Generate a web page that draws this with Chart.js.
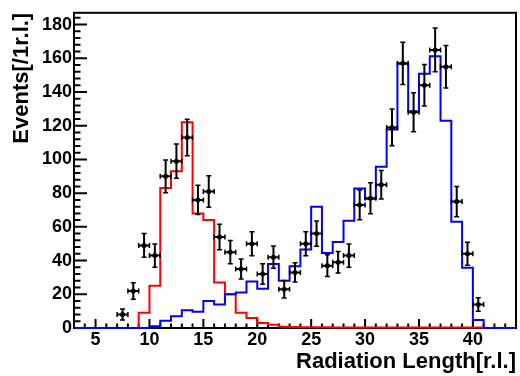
<!DOCTYPE html>
<html>
<head>
<meta charset="utf-8">
<script src="https://cdn.jsdelivr.net/npm/chart.js@4.4.1/dist/chart.umd.min.js"></script>
<style>
  html, body { margin: 0; padding: 0; background: #fff; }
  #wrap { width: 520px; height: 376px; }
</style>
</head>
<body>
<div id="wrap"><canvas id="chart" width="520" height="376"></canvas></div>
<script>
// ===========================
// DATA
// ===========================
// lower edge of each 1 r.l. bin
const binLow = [3, 4, 5, 6, 7, 8, 9, 10, 11, 12, 13, 14, 15, 16, 17, 18, 19, 20, 21, 22, 23,
  24, 25, 26, 27, 28, 29, 30, 31, 32, 33, 34, 35, 36, 37, 38, 39, 40, 41, 42, 43];
const binWidth = 1;

// red histogram
const redCounts = [0, 0, 0, 0, 0, 0, 9, 25, 83, 93, 122, 68, 64, 27, 20, 9, 6, 3, 2, 0.8, 0.6,
  0.5, 0.5, 0.4, 0.3, 0.3, 0.3, 0.3, 0.3, 0.3, 0.3, 0.3, 0.3, 0.3, 0.3, 0.3, 0.3, 0.3, 0, 0, 0];

// blue histogram
const blueCounts = [0, 0, 0, 0, 0, 0, 0, 1, 4.3, 7, 10.5, 9.6, 16, 14, 20, 21, 27.6, 23.3, 38, 28, 36.7,
  46.5, 72, 44.5, 51, 63.7, 82.7, 76.7, 95.7, 117.8, 156.7, 128.6, 150.8, 161.2, 123, 63, 35.7, 4.7, 0, 0, 0];

// measured events with errors
const dataX = [7.5, 8.5, 9.5, 10.5, 11.5, 12.5, 13.5, 14.5, 15.5, 16.5, 17.5, 18.5, 19.5, 20.5,
  21.5, 22.5, 23.5, 24.5, 25.5, 26.5, 27.5, 28.5, 29.5, 30.5, 31.5, 32.5, 33.5, 34.5, 35.5,
  36.5, 37.5, 38.5, 39.5, 40.5];
const dataY = [8, 22, 49, 43, 90, 99, 113, 76, 81, 54, 45, 35, 50, 32, 42, 23, 33, 50, 56, 37,
  39, 43, 73, 77, 85, 119, 157, 128, 144, 165, 155, 75, 44, 14];
const dataErr = [3.2, 4.9, 7.1, 6.9, 9.7, 10.2, 10.8, 8.7, 9.3, 7.6, 6.9, 5.9, 7.1, 6.1, 6.6, 5.2,
  5.7, 7.1, 7.5, 6.4, 6.4, 6.9, 8.8, 9.2, 8.4, 10.9, 12.5, 11.5, 12.3, 13, 12.6, 9, 6.8, 4];

// tick labels
const xTickValues = [5, 10, 15, 20, 25, 30, 35, 40];
const yTickValues = [0, 20, 40, 60, 80, 100, 120, 140, 160, 180];

const xMin = 3, xMax = 44, yMin = 0, yMax = 187;

// ===========================
// HELPERS
// ===========================
function histPoints(counts) {
  const pts = binLow.map((lo, i) => ({ x: lo, y: counts[i] }));
  pts.push({ x: binLow[binLow.length - 1] + binWidth, y: counts[counts.length - 1] });
  return pts;
}

const FONT = '"Liberation Sans", Arial, Helvetica, sans-serif';

// frame + inward ROOT style ticks
const rootFrame = {
  id: 'rootFrame',
  beforeDatasetsDraw(chart) {
    const { ctx, chartArea: a, scales: { x, y } } = chart;
    ctx.save();
    ctx.strokeStyle = '#000';
    ctx.lineWidth = 2;
    ctx.strokeRect(a.left, a.top, a.right - a.left, a.bottom - a.top);

    ctx.beginPath();
    for (let v = yMin; v <= yMax; v += 4) {
      const py = y.getPixelForValue(v);
      const len = v % 20 === 0 ? 13 : 6.5;
      ctx.moveTo(a.left, py);
      ctx.lineTo(a.left + len, py);
    }
    for (let v = xMin; v <= xMax; v += 1) {
      const px = x.getPixelForValue(v);
      const len = v % 5 === 0 ? 9 : 4.5;
      ctx.moveTo(px, a.bottom);
      ctx.lineTo(px, a.bottom - len);
    }
    ctx.stroke();
    ctx.restore();
  }
};

// error bars under the markers
const errorBars = {
  id: 'errorBars',
  beforeDatasetDraw(chart, args) {
    if (chart.data.datasets[args.index].label !== 'data') return;
    const { ctx, scales: { x, y } } = chart;
    ctx.save();
    ctx.strokeStyle = '#000';
    dataX.forEach((cx, i) => {
      const px = x.getPixelForValue(cx);
      const py = y.getPixelForValue(dataY[i]);
      const top = y.getPixelForValue(dataY[i] + dataErr[i]);
      const bot = y.getPixelForValue(dataY[i] - dataErr[i]);
      const l = x.getPixelForValue(cx - binWidth / 2);
      const r = x.getPixelForValue(cx + binWidth / 2);
      ctx.lineWidth = 2;
      ctx.beginPath();
      ctx.moveTo(px, top); ctx.lineTo(px, bot);
      ctx.moveTo(l, py); ctx.lineTo(r, py);
      ctx.stroke();
      ctx.lineWidth = 1.5;
      ctx.beginPath();
      ctx.moveTo(px - 2.5, top); ctx.lineTo(px + 2.5, top);
      ctx.moveTo(px - 2.5, bot); ctx.lineTo(px + 2.5, bot);
      ctx.moveTo(l, py - 2.5); ctx.lineTo(l, py + 2.5);
      ctx.moveTo(r, py - 2.5); ctx.lineTo(r, py + 2.5);
      ctx.stroke();
    });
    ctx.restore();
  }
};

// ===========================
// CHART
// ===========================
new Chart(document.getElementById('chart').getContext('2d'), {
  type: 'line',
  data: {
    datasets: [
      {
        label: 'data',
        type: 'scatter',
        data: dataX.map((v, i) => ({ x: v, y: dataY[i] })),
        showLine: false,
        pointRadius: 2.5,
        pointBackgroundColor: '#000',
        pointBorderWidth: 0,
        order: 0
      },
      {
        label: 'blue',
        data: histPoints(blueCounts),
        stepped: 'before',
        borderColor: '#0000ff',
        borderWidth: 2,
        pointRadius: 0,
        fill: false,
        clip: false,
        order: 1
      },
      {
        label: 'red',
        data: histPoints(redCounts),
        stepped: 'before',
        borderColor: '#ff0000',
        borderWidth: 2,
        pointRadius: 0,
        fill: false,
        clip: false,
        order: 2
      }
    ]
  },
  options: {
    responsive: false,
    animation: false,
    events: [],
    layout: { padding: { left: 0, right: 2, top: 10, bottom: 0 } },
    plugins: { legend: { display: false }, tooltip: { enabled: false } },
    scales: {
      x: {
        type: 'linear',
        min: xMin,
        max: xMax,
        grid: { display: false, drawTicks: false },
        border: { display: false },
        afterBuildTicks: s => { s.ticks = xTickValues.map(v => ({ value: v })); },
        afterFit: s => { s.height = 48; },
        ticks: {
          color: '#000',
          font: { family: FONT, size: 18, weight: 'bold' },
          padding: 1,
          maxRotation: 0,
          autoSkip: false
        },
        title: {
          display: true,
          text: 'Radiation Length[r.l.]',
          align: 'end',
          color: '#000',
          font: { family: FONT, size: 22, weight: 'bold' },
          padding: { top: 0, bottom: 1 }
        }
      },
      y: {
        type: 'linear',
        min: yMin,
        max: yMax,
        grid: { display: false, drawTicks: false },
        border: { display: false },
        afterBuildTicks: s => { s.ticks = yTickValues.map(v => ({ value: v })); },
        afterFit: s => { s.width = 74; },
        ticks: {
          color: '#000',
          font: { family: FONT, size: 18, weight: 'bold' },
          padding: 2
        },
        title: {
          display: true,
          text: 'Events[/1r.l.]',
          align: 'end',
          color: '#000',
          font: { family: FONT, size: 22, weight: 'bold' },
          padding: { top: 9, bottom: 0 }
        }
      }
    }
  },
  plugins: [rootFrame, errorBars]
});
</script>
</body>
</html>
